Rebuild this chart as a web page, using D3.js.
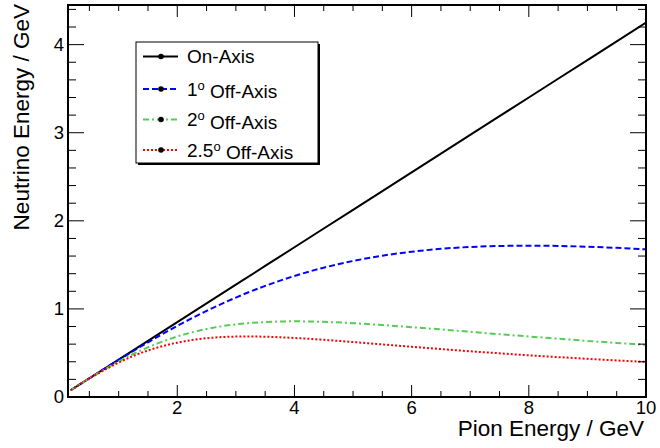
<!DOCTYPE html>
<html><head><meta charset="utf-8">
<script src="https://cdn.jsdelivr.net/npm/d3@7"></script>
<style>body{margin:0;background:#fff}svg{display:block}text{font-family:"Liberation Sans",Arial,sans-serif}</style>
</head><body>
<svg id="c" width="660" height="448"></svg>
<script>
const pionE    = [0.18,0.5,1,1.5,2,2.5,3,3.5,4,4.5,5,5.5,6,6.5,7,7.5,8,8.5,9,9.5,10];
const onAxis   = [0.0765,0.2125,0.425,0.6375,0.85,1.0625,1.275,1.4875,1.70,1.9125,2.125,2.3375,2.55,2.7625,2.975,3.1875,3.40,3.6125,3.825,4.0375,4.25];
const off1deg  = [0.077,0.213,0.421,0.621,0.807,0.977,1.129,1.261,1.374,1.468,1.544,1.604,1.649,1.682,1.703,1.714,1.718,1.715,1.706,1.693,1.676];
const off2deg  = [0.077,0.211,0.404,0.564,0.687,0.772,0.825,0.851,0.859,0.853,0.838,0.817,0.793,0.767,0.740,0.713,0.687,0.662,0.637,0.614,0.592];
const off25deg = [0.077,0.209,0.391,0.528,0.617,0.667,0.686,0.684,0.670,0.649,0.624,0.597,0.570,0.544,0.519,0.496,0.473,0.453,0.433,0.415,0.398];
const xTicks = [2,4,6,8,10];
const yTicks = [0,1,2,3,4];

const svg = d3.select("#c");
const L=68, R=646, T=5, B=397;
const x = d3.scaleLinear().domain([0.135,10]).range([L,R]);
const y = d3.scaleLinear().domain([0,4.45]).range([B,T]);

const series = [
  {name:"On-Axis", sup:null, vals:onAxis, color:"#000000", dash:null, curve:d3.curveLinear},
  {name:"1", sup:"o", vals:off1deg, color:"#0000ff", dash:"6,3", curve:d3.curveNatural},
  {name:"2", sup:"o", vals:off2deg, color:"#55cc55", dash:"6,3,2,3", curve:d3.curveNatural},
  {name:"2.5", sup:"o", vals:off25deg, color:"#ff0000", dash:"2,2", curve:d3.curveNatural}
];

svg.append("clipPath").attr("id","cp").append("rect").attr("x",L).attr("y",T).attr("width",R-L).attr("height",B-T);
const g = svg.append("g").attr("clip-path","url(#cp)");
series.forEach(s=>{
  const line = d3.line().x((d,i)=>x(pionE[i])).y(d=>y(d)).curve(s.curve);
  g.append("path").attr("d",line(s.vals)).attr("fill","none").attr("stroke",s.color)
   .attr("stroke-width",2).attr("stroke-dasharray",s.dash);
});

// axes ticks
const xMinor = d3.range(0.5,10.01,0.5);
const yMinor = d3.range(0.2,4.45,0.2);
const ax = svg.append("g").attr("stroke","#000").attr("stroke-width",1);
xMinor.forEach(v=>{
  const major = Math.abs(v-Math.round(v/2)*2)<1e-6;
  const len = major?12:6;
  ax.append("line").attr("x1",x(v)).attr("x2",x(v)).attr("y1",B).attr("y2",B-len);
  ax.append("line").attr("x1",x(v)).attr("x2",x(v)).attr("y1",T).attr("y2",T+len);
});
yMinor.concat([0]).forEach(v=>{
  const major = Math.abs(v-Math.round(v))<1e-6;
  const len = major?16:8;
  ax.append("line").attr("y1",y(v)).attr("y2",y(v)).attr("x1",L).attr("x2",L+len);
  ax.append("line").attr("y1",y(v)).attr("y2",y(v)).attr("x1",R).attr("x2",R-len);
});
svg.append("rect").attr("x",L).attr("y",T).attr("width",R-L).attr("height",B-T)
  .attr("fill","none").attr("stroke","#000").attr("stroke-width",2);

// tick labels
xTicks.forEach(v=>{
  svg.append("text").attr("x",x(v)).attr("y",414).attr("text-anchor","middle")
    .attr("font-size",18.5).text(v);
});
yTicks.forEach(v=>{
  svg.append("text").attr("x",64).attr("y",y(v)).attr("dy","0.35em").attr("text-anchor","end")
    .attr("font-size",18.5).text(v);
});
svg.append("text").attr("x",644).attr("y",436).attr("text-anchor","end").attr("font-size",22.5)
  .text("Pion Energy / GeV");
svg.append("text").attr("transform","translate(29,4) rotate(-90)").attr("text-anchor","end").attr("font-size",22.5)
  .text("Neutrino Energy / GeV");

// legend
const lg = svg.append("g");
lg.append("rect").attr("x",138).attr("y",44).attr("width",182).attr("height",121).attr("fill","#000");
lg.append("rect").attr("x",136).attr("y",42).attr("width",182).attr("height",121).attr("fill","#fff").attr("stroke","#000").attr("stroke-width",1);
const rowY = [56.5,89,119.5,150];
series.forEach((s,i)=>{
  const yy = rowY[i];
  lg.append("line").attr("x1",143).attr("x2",178).attr("y1",yy).attr("y2",yy)
    .attr("stroke",s.color).attr("stroke-width",2).attr("stroke-dasharray",s.dash);
  lg.append("circle").attr("cx",161).attr("cy",yy).attr("r",2.8).attr("fill","#000");
  const t = lg.append("text").attr("x",187).attr("y",yy).attr("dy","0.35em").attr("font-size",19);
  if(s.sup){
    t.append("tspan").text(s.name);
    t.append("tspan").attr("dy","-0.45em").attr("font-size",13).text(s.sup);
    t.append("tspan").attr("dy","0.45em").text(" Off-Axis");
  } else t.text(s.name);
});
</script>
</body></html>
